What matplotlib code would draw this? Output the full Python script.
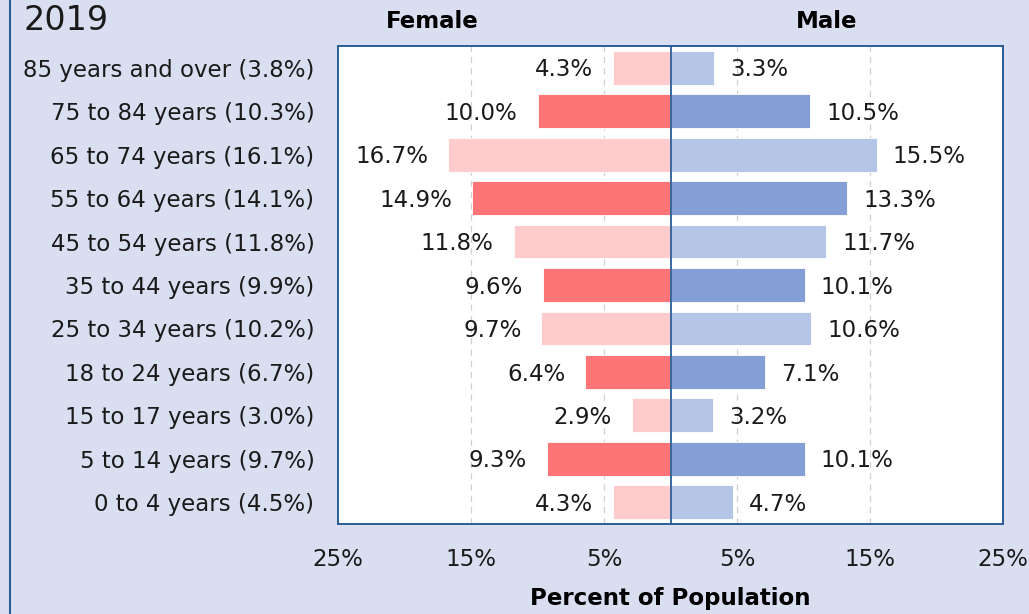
import matplotlib
matplotlib.use("Agg")
import matplotlib.pyplot as plt
from matplotlib.lines import Line2D

# age groups top -> bottom
age_groups = ["85 years and over", "75 to 84 years", "65 to 74 years", "55 to 64 years",
              "45 to 54 years", "35 to 44 years", "25 to 34 years", "18 to 24 years",
              "15 to 17 years", "5 to 14 years", "0 to 4 years"]
total_pct = [3.8, 10.3, 16.1, 14.1, 11.8, 9.9, 10.2, 6.7, 3.0, 9.7, 4.5]
female_pct = [4.3, 10.0, 16.7, 14.9, 11.8, 9.6, 9.7, 6.4, 2.9, 9.3, 4.3]
male_pct = [3.3, 10.5, 15.5, 13.3, 11.7, 10.1, 10.6, 7.1, 3.2, 10.1, 4.7]
xticks = [-25, -15, -5, 5, 15, 25]
xtick_labels = ["25%", "15%", "5%", "5%", "15%", "25%"]

bg = "#d9dff1"
f_light, f_dark = "#ffccce", "#ff7477"
m_light, m_dark = "#b5c5e8", "#839fd5"
frame = "#2a5d98"

plt.rcParams["font.family"] = ["DejaVu Sans"]

fig = plt.figure(figsize=(10.29, 6.14), dpi=100, facecolor=bg)
ax = fig.add_axes([338 / 1029, 1 - 524 / 614, 665 / 1029, 478 / 614])
ax.set_facecolor("white")

n = len(age_groups)
ypos = list(range(n - 1, -1, -1))
for i, (y, f, m) in enumerate(zip(ypos, female_pct, male_pct)):
    dark = i % 2 == 1
    ax.barh(y, -f, height=0.78, color=f_dark if dark else f_light,
            edgecolor="white", linewidth=0.6, zorder=2)
    ax.barh(y, m, height=0.78, color=m_dark if dark else m_light,
            edgecolor="white", linewidth=0.6, zorder=2)
    ax.text(-f - 1.5, y - 0.05, f"{f:.1f}%", ha="right", va="center", fontsize=16.5, color="#1a1a1a")
    ax.text(m + 1.2, y - 0.05, f"{m:.1f}%", ha="left", va="center", fontsize=16.5, color="#1a1a1a")

for x in [-15, -5, 5, 15]:
    ax.axvline(x, color="#d0d0d0", linestyle=(0, (5, 4)), linewidth=0.9, zorder=1)
ax.axvline(0, color=frame, linewidth=1.3, zorder=3)

ax.set_xlim(-25, 25)
ax.set_ylim(-0.5, n - 0.5)
ax.set_yticks(ypos)
ax.set_yticklabels([f"{a} ({t:.1f}%)" for a, t in zip(age_groups, total_pct)], fontsize=16.5, color="#1a1a1a")
ax.set_xticks(xticks)
ax.set_xticklabels(xtick_labels, fontsize=16.5, color="#1a1a1a")
ax.tick_params(axis="y", length=0, pad=17)
ax.tick_params(axis="x", length=0, pad=17)
for s in ax.spines.values():
    s.set_color(frame)
    s.set_linewidth(1.4)

fig.text(66 / 1029, 1 - 21 / 614, "2019", ha="center", va="center", fontsize=24, color="#1a1a1a")
fig.text(432 / 1029, 1 - 21 / 614, "Female", ha="center", va="center", fontsize=16.5,
         fontweight="bold", color="black")
fig.text(827 / 1029, 1 - 21 / 614, "Male", ha="center", va="center", fontsize=16.5,
         fontweight="bold", color="black")
fig.text(670 / 1029, 1 - 598 / 614, "Percent of Population", ha="center", va="center",
         fontsize=16.5, fontweight="bold", color="black")

# panel border on the left edge
fig.add_artist(Line2D([10 / 1029, 10 / 1029], [0, 1], transform=fig.transFigure,
                      color=frame, linewidth=1.5))

fig.savefig("out.png", dpi=100, facecolor=bg)
